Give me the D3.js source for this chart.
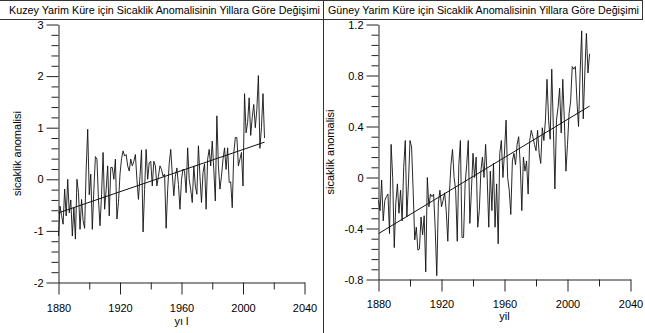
<!DOCTYPE html>
<html>
<head>
<meta charset="utf-8">
<script src="https://cdn.jsdelivr.net/npm/d3@7"></script>
<style>
  body { margin: 0; background: #fff; }
  svg { color: #111; }
  text { font-family: "Liberation Sans", Arial, sans-serif; }
</style>
</head>
<body>
<div id="vis"></div>
<script>
const FRAME_WIDTH = 645;
const FRAME_HEIGHT = 333;

// yearly anomalies, 1880 .. 2014
const START_YEAR = 1880;

const NORTH_VALUES = [
  -1.10, -0.52, -0.70, -0.87, -0.19, -0.71, 0.00, -0.65, -0.40, -1.10,
  -0.55, -1.16, 0.00, -0.26, -0.97, -0.39, -0.80, -0.95, 0.20, 0.97,
  -0.30, 0.10, -0.97, -0.20, 0.44, 0.39, -0.40, -0.90, -0.30, 0.52,
  -0.58, -0.20, 0.26, -0.71, 0.23, 0.23, 0.00, 0.39, -0.77, -0.45,
  0.10, 0.40, 0.55, 0.45, 0.48, 0.26, 0.16, 0.39, 0.26, 0.35,
  0.48, 0.00, -0.39, 0.06, 0.57, -1.02, -0.20, 0.58, 0.00, 0.32,
  0.35, -0.13, 0.35, 0.26, -0.13, 0.06, 0.26, 0.19, 0.06, 0.10,
  -0.95, -0.20, 0.30, 0.58, 0.10, -0.32, 0.06, 0.22, -0.10, -0.58,
  0.00, 0.20, 0.16, -0.26, 0.61, 0.00, -0.20, -0.45, 0.26, -0.13,
  -0.29, 0.65, 0.06, -0.45, 0.13, 0.30, -0.58, 0.39, 0.58, 0.26,
  0.74, 0.19, -0.42, 1.23, 0.26, -0.19, 0.06, 0.39, 0.61, 0.19,
  0.61, -0.06, -0.05, -0.55, 0.50, 0.81, 0.81, 0.26, 0.39, 0.52,
  -0.13, 1.66, 0.90, 1.10, 1.58, 0.85, 1.20, 1.45, 1.00, 1.35,
  2.01, 0.60, 1.00, 1.66, 0.80
];

const SOUTH_VALUES = [
  -0.18, -0.26, -0.02, -0.34, -0.18, -0.15, -0.13, -0.44, 0.26, 0.00,
  -0.55, -0.20, -0.05, -0.28, -0.10, -0.34, 0.08, 0.29, -0.31, -0.05,
  0.29, 0.24, -0.10, -0.49, -0.39, -0.57, -0.56, -0.31, -0.45, -0.30,
  -0.74, 0.00, -0.23, -0.13, -0.15, -0.13, -0.40, -0.77, -0.20, -0.10,
  -0.23, -0.18, -0.12, -0.26, -0.50, -0.13, 0.10, 0.22, 0.00, -0.10,
  -0.50, 0.10, 0.29, -0.47, -0.47, -0.05, 0.10, 0.29, -0.36, -0.10,
  0.19, 0.00, 0.16, -0.39, -0.26, 0.05, 0.16, 0.00, 0.26, 0.00,
  -0.39, 0.05, -0.26, 0.11, -0.39, -0.05, -0.52, 0.19, 0.29, 0.00,
  0.20, 0.45, 0.00, -0.10, -0.29, 0.13, 0.19, 0.10, 0.26, 0.32,
  0.10, -0.26, 0.16, 0.05, 0.13, -0.13, 0.29, 0.37, 0.32, 0.26,
  0.21, 0.37, 0.19, 0.11, 0.39, 0.29, 0.45, 0.77, 0.45, 0.30,
  0.85, 0.40, -0.09, 0.45, 0.55, 0.70, 0.35, 0.77, 0.45, 0.05,
  0.26, 0.50, 0.60, 0.87, 0.85, 0.87, 0.60, 0.40, 0.82, 1.15,
  0.46, 0.82, 1.13, 0.82, 0.97
];

// linear trend end points
const TREND_YEARS = [1880, 2014];
const NORTH_TREND = [-0.65, 0.72];
const SOUTH_TREND = [-0.44, 0.56];

const X_MAJOR = [1880, 1920, 1960, 2000, 2040];
const X_MINOR = [1900, 1940, 1980, 2020];
const NORTH_Y_MAJOR = [-2, -1, 0, 1, 2, 3];
const SOUTH_Y_MAJOR = [-0.8, -0.4, 0, 0.4, 0.8, 1.2];

const NORTH_TITLE = "Kuzey Yarim Küre için Sicaklik Anomalisinin Yillara Göre Değişimi";
const SOUTH_TITLE = "Güney Yarim Küre için Sicaklik Anomalisinin Yillara Göre Değişimi";

const FRAME = d3.select("#vis")
                  .append("svg")
                    .attr("width", FRAME_WIDTH)
                    .attr("height", FRAME_HEIGHT);

// title boxes and separator
FRAME.append("line").attr("x1", 0).attr("x2", 643).attr("y1", 0.5).attr("y2", 0.5)
     .attr("stroke", "#333");
FRAME.append("line").attr("x1", 0).attr("x2", 643).attr("y1", 19.5).attr("y2", 19.5)
     .attr("stroke", "#333");
FRAME.append("line").attr("x1", 323.5).attr("x2", 323.5).attr("y1", 0).attr("y2", FRAME_HEIGHT)
     .attr("stroke", "#333");
FRAME.append("line").attr("x1", 642.5).attr("x2", 642.5).attr("y1", 0).attr("y2", 19.5)
     .attr("stroke", "#333");

function panel(cfg) {
    const X_SCALE = d3.scaleLinear()
                      .domain([1880, 2040])
                      .range([cfg.left, cfg.right]);
    const Y_SCALE = d3.scaleLinear()
                      .domain(cfg.yDomain)
                      .range([cfg.bottom, cfg.top]);

    // title
    FRAME.append("text")
         .attr("x", cfg.titleX)
         .attr("y", 14)
         .attr("font-size", "10.7px")
         .attr("textLength", 311)
         .attr("lengthAdjust", "spacingAndGlyphs")
         .attr("fill", "#000")
         .text(cfg.title);

    // minor ticks
    FRAME.append("g")
         .attr("transform", "translate(0," + cfg.bottom + ")")
         .call(d3.axisBottom(X_SCALE).tickValues(X_MINOR).tickSize(7).tickFormat(""))
         .call(g => g.select(".domain").remove());
    FRAME.append("g")
         .attr("transform", "translate(" + cfg.left + ",0)")
         .call(d3.axisLeft(Y_SCALE).tickValues(cfg.yMinor).tickSize(7).tickFormat(""))
         .call(g => g.select(".domain").remove());

    // x axis
    FRAME.append("g")
         .attr("transform", "translate(0," + cfg.bottom + ")")
         .call(d3.axisBottom(X_SCALE).tickValues(X_MAJOR).tickSize(12).tickSizeOuter(0)
                 .tickPadding(cfg.xPad).tickFormat(d => String(d)))
         .attr("font-size", "11px");

    // y axis
    FRAME.append("g")
         .attr("transform", "translate(" + cfg.left + ",0)")
         .call(d3.axisLeft(Y_SCALE).tickValues(cfg.yMajor).tickSize(12).tickSizeOuter(0)
                 .tickPadding(3).tickFormat(d => String(d)))
         .attr("font-size", "11px");

    FRAME.selectAll(".tick line, .domain").attr("stroke", "#222");
    FRAME.selectAll(".tick text").attr("font-family", "Liberation Sans, Arial, sans-serif")
         .attr("fill", "#000");

    // axis titles
    FRAME.append("text")
         .attr("x", (cfg.left + cfg.right) / 2)
         .attr("y", cfg.xTitleY)
         .attr("text-anchor", "middle")
         .attr("font-size", "11px")
         .attr("fill", "#000")
         .text(cfg.xTitle);

    FRAME.append("text")
         .attr("transform", "translate(" + cfg.yTitleX + "," + ((cfg.top + cfg.bottom) / 2) + ") rotate(-90)")
         .attr("text-anchor", "middle")
         .attr("font-size", "11px")
         .attr("fill", "#000")
         .text("sicaklik anomalisi");

    // series
    const data = cfg.values.map((v, i) => ({year: START_YEAR + i, value: v}));
    const line = d3.line()
                   .x(d => X_SCALE(d.year))
                   .y(d => Y_SCALE(d.value));

    FRAME.append("path")
         .datum(data)
         .attr("d", line)
         .attr("fill", "none")
         .attr("stroke", "#111")
         .attr("stroke-width", 0.9);

    // trend
    const trend = TREND_YEARS.map((y, i) => ({year: y, value: cfg.trend[i]}));
    FRAME.append("path")
         .datum(trend)
         .attr("d", line)
         .attr("fill", "none")
         .attr("stroke", "#111")
         .attr("stroke-width", 1);
}

panel({
    title: NORTH_TITLE, titleX: 9,
    left: 58.5, right: 304.5, top: 24.5, bottom: 282.5,
    yDomain: [-2, 3], yMajor: NORTH_Y_MAJOR,
    yMinor: d3.range(-20, 31, 2).filter(d => d % 10 != 0).map(d => d / 10),
    values: NORTH_VALUES, trend: NORTH_TREND,
    xPad: 10, xTitle: "yı l", xTitleY: 325, yTitleX: 21
});

panel({
    title: SOUTH_TITLE, titleX: 328,
    left: 378.5, right: 630.5, top: 24.5, bottom: 279.5,
    yDomain: [-0.8, 1.2], yMajor: SOUTH_Y_MAJOR,
    yMinor: d3.range(-40, 61, 4).filter(d => d % 20 != 0).map(d => d / 50),
    values: SOUTH_VALUES, trend: SOUTH_TREND,
    xPad: 9, xTitle: "yil", xTitleY: 320, yTitleX: 334
});
</script>
</body>
</html>
